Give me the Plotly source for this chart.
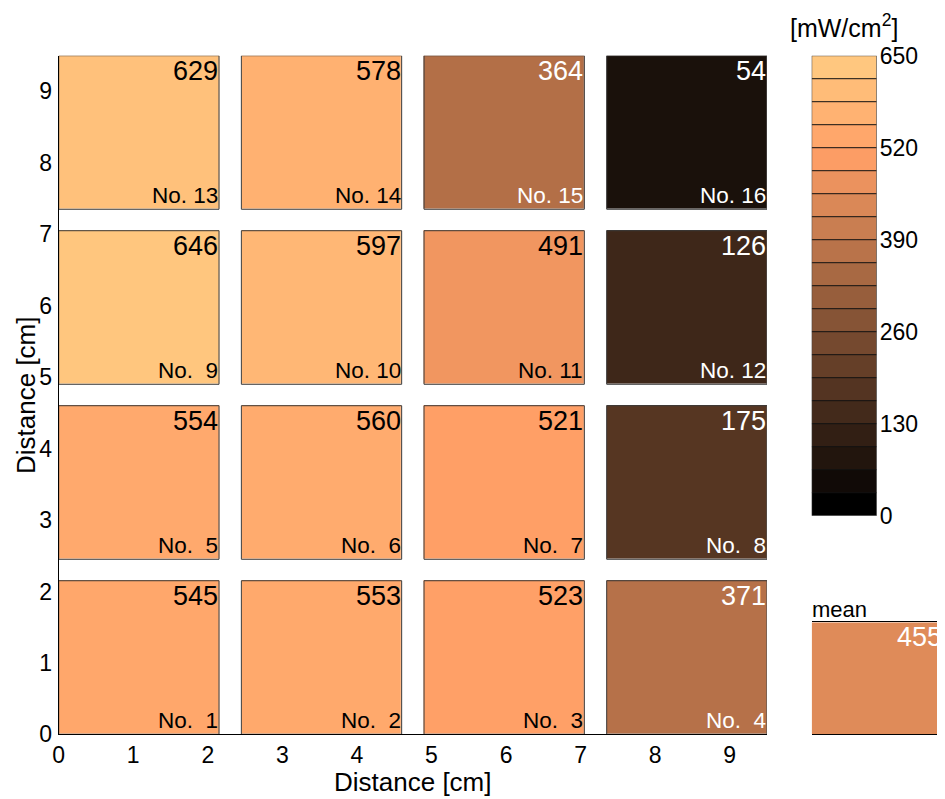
import plotly.graph_objects as go

# ---------------- data ----------------
cell_no = list(range(1, 17))
intensity = [545, 553, 523, 371,
             554, 560, 521, 175,
             646, 597, 491, 126,
             629, 578, 364, 54]
x_ticks = list(range(10))
y_ticks = list(range(10))
cbar_ticks = [0, 130, 260, 390, 520, 650]
n_levels = 20
cmin, cmax = 0, 650
mean_value = round(sum(intensity) / len(intensity))

# ---------------- geometry / style ----------------
OFF = 8                      # page body margin
W, H = 945 - OFF, 799 - OFF  # figure size that fits the window
n_cols = 4
pitch = 2.45
size = 2.15
FONT = "Liberation Sans, Arial, sans-serif"
EDGE = "#3a3a3a"

# copper colormap (MATLAB): r=min(1,1.25x), g=0.7812x, b=0.4975x
copper = [[0.0, "rgb(0,0,0)"],
          [0.8, "rgb(255,159.4,101.5)"],
          [1.0, "rgb(255,199.2,126.9)"]]

def fx(p):   # screen px -> paper x
    return (p - OFF) / W

def fy(p):   # screen px (from top) -> paper y
    return (H - (p - OFF)) / H

def px_x(a, b):
    return [fx(a), min(1.0, fx(b))]

def px_y(top, bottom):
    return [fy(bottom), fy(top)]

main_x = (58.7, 767.0)
main_y = (55.7, 734.3)
cb_x = (811.7, 876.7)
cb_y = (55.7, 515.7)
mean_x = (811.7, 945.0)
mean_y = (622.3, 734.0)

xrng = [0, 9.5]
yrng = [0, 9.5]
xpx_per_unit = (main_x[1] - main_x[0]) / (xrng[1] - xrng[0])
ypx_per_unit = (main_y[1] - main_y[0]) / (yrng[1] - yrng[0])
gap_units = pitch - size

centers = [pitch * i + size / 2 for i in range(n_cols)]
z = [intensity[r * n_cols:(r + 1) * n_cols] for r in range(n_cols)]

fig = go.Figure()

fig.add_trace(go.Heatmap(
    x=centers, y=centers, z=z, zmin=cmin, zmax=cmax,
    colorscale=copper, showscale=False,
    xgap=gap_units * xpx_per_unit, ygap=gap_units * ypx_per_unit,
    hoverinfo="z", xaxis="x", yaxis="y"))

# cell outlines
ex, ey = [], []
for r in range(n_cols):
    for c in range(n_cols):
        x0, x1 = centers[c] - size / 2, centers[c] + size / 2
        y0, y1 = centers[r] - size / 2, centers[r] + size / 2
        ex += [x0, x1, x1, x0, x0, None]
        ey += [y0, y0, y1, y1, y0, None]
fig.add_trace(go.Scatter(x=ex, y=ey, mode="lines",
                         line=dict(color=EDGE, width=1),
                         hoverinfo="skip", showlegend=False,
                         xaxis="x", yaxis="y"))

# ---------------- colorbar ----------------
band = (cmax - cmin) / n_levels
band_centers = [cmin + band * (i + 0.5) for i in range(n_levels)]
band_levels = [cmin + (cmax - cmin) * i / (n_levels - 1) for i in range(n_levels)]
fig.add_trace(go.Heatmap(
    x=[0], y=band_centers, z=[[v] for v in band_levels],
    zmin=cmin, zmax=cmax, colorscale=copper, showscale=False,
    hoverinfo="skip", xaxis="x2", yaxis="y2"))
sx, sy = [], []
for k in range(1, n_levels):
    sx += [-0.5, 0.5, None]
    sy += [cmin + band * k] * 2 + [None]
fig.add_trace(go.Scatter(x=sx, y=sy, mode="lines",
                         line=dict(color="#111111", width=1),
                         hoverinfo="skip", showlegend=False,
                         xaxis="x2", yaxis="y2"))
fig.add_trace(go.Scatter(x=[-0.5, 0.5, 0.5, -0.5, -0.5],
                         y=[cmin, cmin, cmax, cmax, cmin], mode="lines",
                         line=dict(color=EDGE, width=1),
                         hoverinfo="skip", showlegend=False,
                         xaxis="x2", yaxis="y2"))

# ---------------- mean box ----------------
fig.add_trace(go.Heatmap(
    x=[0.5], y=[0.5], z=[[mean_value]], zmin=cmin, zmax=cmax,
    colorscale=copper, showscale=False, hoverinfo="z",
    xaxis="x3", yaxis="y3"))

# ---------------- annotations ----------------
def txt_color(v):
    return "black" if v > 470 else "white"

VAL_SIZE = 27
NO_SIZE = 22.5

ann = []
for r in range(n_cols):
    for c in range(n_cols):
        i = r * n_cols + c
        v = intensity[i]
        right = centers[c] + size / 2
        ann.append(dict(x=right, y=centers[r] + size / 2, xref="x", yref="y",
                        text=str(v), showarrow=False, xanchor="right",
                        yanchor="top", font=dict(size=VAL_SIZE, color=txt_color(v),
                                                 family=FONT),
                        xshift=1, yshift=2))
        lab = "No.\u00a0" + ("\u00a0" if cell_no[i] < 10 else "") + str(cell_no[i])
        ann.append(dict(x=right, y=centers[r] - size / 2, xref="x", yref="y",
                        text=lab, showarrow=False, xanchor="right",
                        yanchor="bottom", font=dict(size=NO_SIZE, color=txt_color(v),
                                                    family=FONT),
                        xshift=1, yshift=-1))

ann.append(dict(x=fx((main_x[0] + main_x[1]) / 2), y=fy(782),
                xref="paper", yref="paper", text="Distance [cm]",
                showarrow=False, xanchor="center", yanchor="middle",
                font=dict(size=26, color="black", family=FONT)))
ann.append(dict(x=fx(26), y=fy((main_y[0] + main_y[1]) / 2),
                xref="paper", yref="paper", text="Distance [cm]",
                textangle=-90, showarrow=False, xanchor="center",
                yanchor="middle",
                font=dict(size=26, color="black", family=FONT)))
ann.append(dict(x=fx((cb_x[0] + cb_x[1]) / 2), y=fy(26),
                xref="paper", yref="paper", text="[mW/cm<sup>2</sup>]",
                showarrow=False, xanchor="center", yanchor="middle",
                font=dict(size=25, color="black", family=FONT)))
ann.append(dict(x=0, y=1, xref="x3 domain", yref="y3 domain", text="mean",
                showarrow=False, xanchor="left", yanchor="bottom",
                xshift=-2, yshift=-2,
                font=dict(size=22, color="black", family=FONT)))
ann.append(dict(x=1, y=1, xref="x3 domain", yref="y3 domain",
                text=str(mean_value), showarrow=False, xanchor="right",
                yanchor="top", xshift=-1, yshift=2,
                font=dict(size=VAL_SIZE, color=txt_color(mean_value), family=FONT)))

axis_common = dict(showgrid=False, zeroline=False, ticks="", automargin=False,
                   tickfont=dict(size=23, color="black", family=FONT))

fig.update_layout(
    width=W, height=H,
    margin=dict(l=0, r=0, t=0, b=0, autoexpand=False),
    paper_bgcolor="white", plot_bgcolor="white",
    showlegend=False,
    font=dict(family=FONT, color="black"),
    xaxis=dict(domain=px_x(*main_x), range=xrng, tickvals=x_ticks,
               showline=True, linecolor="black", linewidth=1,
               anchor="y", ticklabelstandoff=0, **axis_common),
    yaxis=dict(domain=px_y(*main_y), range=yrng, tickvals=y_ticks,
               showline=True, linecolor="black", linewidth=1,
               anchor="x", ticklabelstandoff=1, **axis_common),
    xaxis2=dict(domain=px_x(*cb_x), range=[-0.5, 0.5], visible=False,
                anchor="y2", fixedrange=True, automargin=False),
    yaxis2=dict(domain=px_y(*cb_y), range=[cmin, cmax], tickvals=cbar_ticks,
                side="right", anchor="x2", showline=False,
                ticklabelstandoff=2, **axis_common),
    xaxis3=dict(domain=px_x(*mean_x), range=[0, 1], showline=True,
                mirror=True, linecolor="black", linewidth=1,
                showticklabels=False, anchor="y3", showgrid=False,
                zeroline=False, ticks="", automargin=False),
    yaxis3=dict(domain=px_y(*mean_y), range=[0, 1], visible=False,
                anchor="x3", automargin=False),
    annotations=ann,
)

fig.write_html("out.html")
